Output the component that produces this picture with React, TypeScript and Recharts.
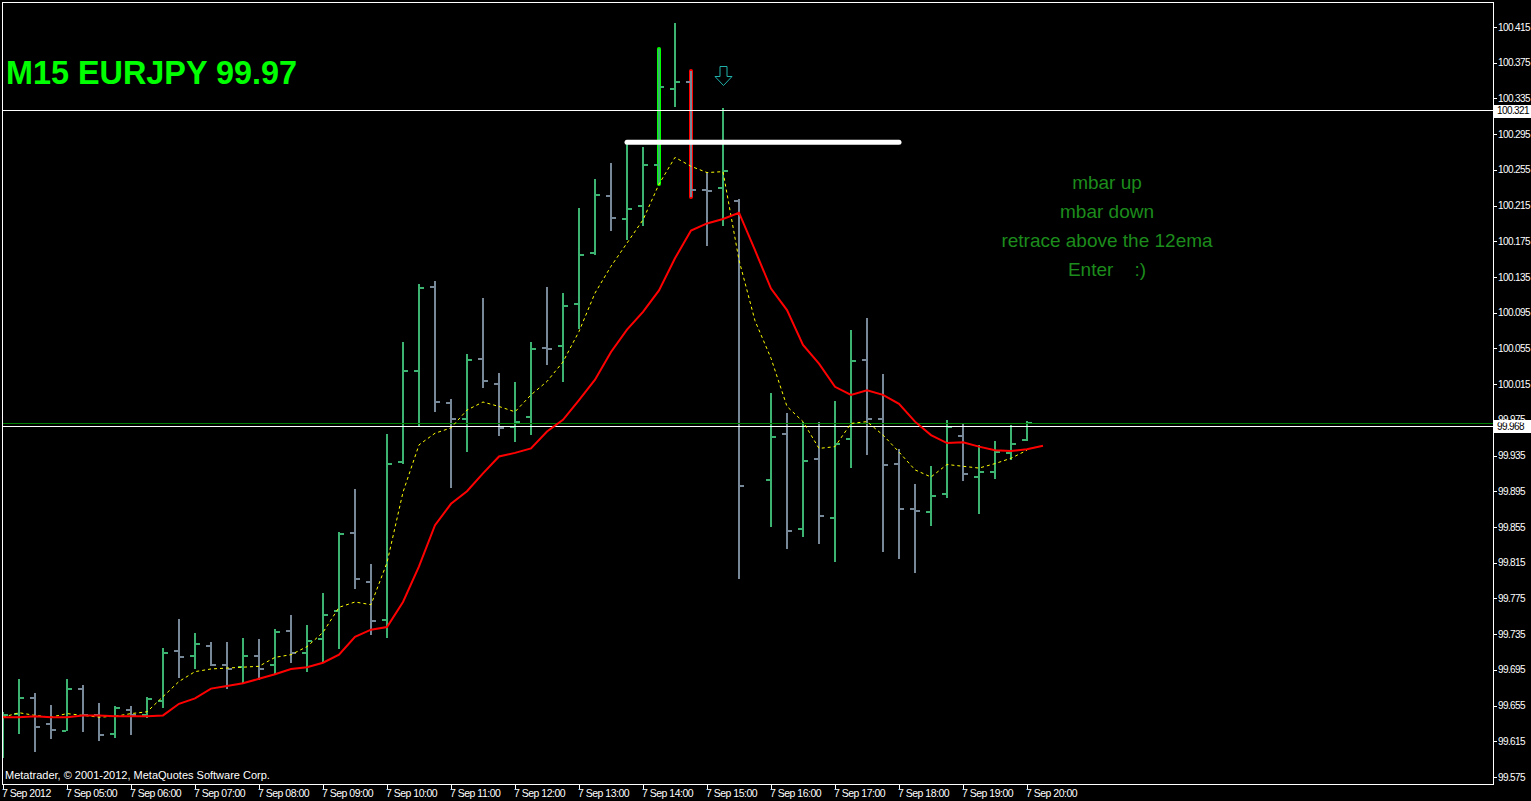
import React from 'react';
import { ComposedChart, Bar, Line, XAxis, YAxis, ReferenceLine, ReferenceDot } from 'recharts';

// ---- data (EURJPY M15, 7 Sep 2012, 04:00 .. 20:00) ----
const barIndex: number[] = Array.from({ length: 66 }, (_, i) => i);

const opens: (number | null)[] = [
  99.639, 99.646, 99.664, 99.634, 99.627, 99.674, 99.644, 99.623, 99.650, 99.644,
  99.660, 99.716, 99.711, 99.722, 99.701, 99.698, 99.710, 99.700, 99.739, 99.714,
  99.730, 99.761, 99.848, 99.793, 99.751, 99.928, 100.030, 100.124, 99.994, 99.976,
  100.043, 100.015, 99.967, 99.978, 100.055, 100.058, 100.105, 100.162, 100.226, 100.200,
  100.215, 100.260, 100.346, 100.353, 100.232, 100.235, 100.220, null, 99.908, 99.959,
  99.853, 99.931, 99.865, 99.953, 100.042, 99.976, 99.926, 99.875, 99.872, 99.892,
  99.957, 99.911, 99.917, 99.938, 99.952,
];
const highs: (number | null)[] = [
  99.648, 99.685, 99.669, 99.656, 99.685, 99.678, 99.658, 99.655, 99.655, 99.665,
  99.720, 99.752, 99.736, 99.726, 99.726, 99.731, 99.730, 99.741, 99.756, 99.745,
  99.781, 99.849, 99.898, 99.814, 99.959, 100.062, 100.127, 100.131, 99.998, 100.049,
  100.111, 100.027, 100.017, 100.062, 100.124, 100.117, 100.212, 100.245, 100.263, 100.286,
  100.281, 100.390, 100.419, 100.366, 100.253, 100.324, 100.222, null, 100.005, 99.983,
  99.973, 99.973, 99.996, 100.076, 100.089, 100.026, 99.942, 99.903, 99.923, 99.975,
  99.970, 99.947, 99.951, 99.969, 99.974,
];
const lows: (number | null)[] = [
  99.596, 99.623, 99.603, 99.618, 99.627, 99.625, 99.615, 99.619, 99.622, 99.641,
  99.652, 99.686, 99.696, 99.699, 99.674, 99.680, 99.684, 99.689, 99.703, 99.693,
  99.703, 99.718, 99.786, 99.734, 99.731, 99.926, 99.968, 99.984, 99.899, 99.939,
  100.011, 99.957, 99.950, 99.958, 100.036, 100.017, 100.077, 100.160, 100.186, 100.176,
  100.192, 100.239, 100.325, 100.225, 100.170, 100.192, 99.797, null, 99.855, 99.830,
  99.844, 99.836, 99.816, 99.921, 99.936, 99.827, 99.819, 99.803, 99.856, 99.888,
  99.906, 99.870, 99.909, 99.930, 99.951,
];
const closes: (number | null)[] = [
  99.644, 99.663, 99.631, 99.628, 99.673, 99.644, 99.622, 99.652, 99.644, 99.662,
  99.714, 99.709, 99.724, 99.700, 99.696, 99.711, 99.696, 99.737, 99.714, 99.727,
  99.756, 99.847, 99.797, 99.750, 99.926, 100.030, 100.123, 99.995, 99.976, 100.042,
  100.018, 99.966, 99.973, 100.054, 100.054, 100.103, 100.160, 100.227, 100.201, 100.211,
  100.260, 100.348, 100.353, 100.232, 100.231, 100.254, 99.901, null, 99.956, 99.850,
  99.929, 99.867, 99.948, 100.041, 99.976, 99.924, 99.875, 99.873, 99.890, 99.967,
  99.914, 99.917, 99.939, 99.948, 99.971,
];

// slow moving average (red, drawn one bar shifted)
const slowMA: number[] = [
  99.642, 99.642, 99.643, 99.642, 99.642, 99.644, 99.644, 99.643, 99.643, 99.643,
  99.644, 99.657, 99.663, 99.674, 99.677, 99.680, 99.685, 99.690, 99.696, 99.698,
  99.703, 99.712, 99.732, 99.740, 99.743, 99.771, 99.811, 99.857, 99.881, 99.895,
  99.915, 99.934, 99.938, 99.943, 99.962, 99.975, 99.997, 100.020, 100.051, 100.076,
  100.096, 100.120, 100.156, 100.187, 100.195, 100.200, 100.207, 100.165, 100.122, 100.098,
  100.059, 100.038, 100.012, 100.003, 100.008, 100.003, 99.993, 99.973, 99.958, 99.949,
  99.950, 99.945, 99.941, 99.940, 99.942, 99.946,
];
// fast moving average (yellow dotted)
const fastMA: number[] = [
  99.642, 99.647, 99.644, 99.642, 99.646, 99.644, 99.642, 99.643, 99.646, 99.648,
  99.665, 99.682, 99.693, 99.696, 99.697, 99.698, 99.699, 99.709, 99.712, 99.721,
  99.737, 99.765, 99.771, 99.768, 99.815, 99.894, 99.947, 99.960, 99.966, 99.986,
  99.995, 99.990, 99.984, 100.003, 100.018, 100.040, 100.074, 100.117, 100.147, 100.173,
  100.199, 100.239, 100.269, 100.259, 100.252, 100.253, 100.154, 100.086, 100.044, 99.990,
  99.973, 99.943, 99.945, 99.971, 99.973, 99.958, 99.939, 99.919, 99.911, 99.925,
  99.923, 99.921, 99.926, 99.932, 99.941,
];

const timeTicks: number[] = [0, 4, 8, 12, 16, 20, 24, 28, 32, 36, 40, 44, 48, 52, 56, 60, 64];
const timeLabels: string[] = [
  '7 Sep 2012', '7 Sep 05:00', '7 Sep 06:00', '7 Sep 07:00', '7 Sep 08:00', '7 Sep 09:00',
  '7 Sep 10:00', '7 Sep 11:00', '7 Sep 12:00', '7 Sep 13:00', '7 Sep 14:00', '7 Sep 15:00',
  '7 Sep 16:00', '7 Sep 17:00', '7 Sep 18:00', '7 Sep 19:00', '7 Sep 20:00',
];
const priceTicks: number[] = [
  100.415, 100.375, 100.335, 100.295, 100.255, 100.215, 100.175, 100.135, 100.095, 100.055,
  100.015, 99.975, 99.935, 99.895, 99.855, 99.815, 99.775, 99.735, 99.695, 99.655, 99.615, 99.575,
];

const resistanceLevel = 100.321;
const bidLevel = 99.971;
const closeLevel = 99.968;
const zoneLevel = 100.286;
const zoneFromBar = 39;
const zoneToBar = 56;
const arrowBar = 45;
const arrowPrice = 100.371;
const markedBars = [
  { bar: 41, color: '#00ff00' },
  { bar: 43, color: '#ff0000' },
];
const titleText = 'M15 EURJPY 99.97';
const noteLines: string[] = ['mbar up', 'mbar down', 'retrace above the 12ema', 'Enter    :)'];
const copyrightText = 'Metatrader, \u00a9 2001-2012, MetaQuotes Software Corp.';

// ---- layout ----
const W = 1531;
const H = 801;
const PLOT_LEFT = 2;
const PLOT_TOP = 2;
const PLOT_RIGHT = 1493;
const PLOT_BOTTOM = 785;
const X_DOMAIN: [number, number] = [-0.0625, 93.125];
const Y_DOMAIN: [number, number] = [99.56604, 100.443];
const UP = '#3cb371';
const DOWN = '#778899';
const FONT = '"Liberation Sans", Arial, sans-serif';

const data = barIndex.map((i) => ({
  i,
  open: opens[i] ?? null,
  high: highs[i] ?? null,
  low: lows[i] ?? null,
  close: closes[i] ?? null,
  slow: slowMA[i] ?? null,
  fast: fastMA[i] ?? null,
}));

const OhlcShape = (props: any) => {
  const { x, y, width, height, payload } = props;
  if (!payload || payload.high == null || !Number.isFinite(y) || !Number.isFinite(height)) return null;
  const cx = Math.round(x + width / 2 + 0.5);
  const range = payload.high - payload.low;
  const yOf = (v: number) => (range > 0 ? y + ((payload.high - v) / range) * height : y);
  const up = payload.close > payload.open;
  const color = up ? UP : DOWN;
  const mark = markedBars.find((m) => m.bar === payload.i);
  const top = Math.round(y);
  const bottom = Math.round(y + height);
  return (
    <g>
      {mark && (
        <line x1={cx} x2={cx} y1={top} y2={bottom} stroke={mark.color} strokeWidth={4} strokeLinecap="round" />
      )}
      <rect x={cx - 1} y={top} width={2} height={Math.max(bottom - top, 1)} fill={color} />
      <rect x={cx - 5} y={Math.round(yOf(payload.open)) - 1} width={4} height={2} fill={color} />
      <rect x={cx + 1} y={Math.round(yOf(payload.close)) - 1} width={4} height={2} fill={color} />
    </g>
  );
};

const TimeTick = (props: any) => {
  const { x, payload } = props;
  const idx = timeTicks.indexOf(payload.value);
  const label = idx >= 0 ? timeLabels[idx] : '';
  const px = Math.round(x) + 0.5;
  return (
    <g>
      <line x1={px} x2={px} y1={PLOT_BOTTOM} y2={PLOT_BOTTOM + 4} stroke="#fff" />
      <text x={Math.round(x) - 1} y={PLOT_BOTTOM + 11.5} fill="#fff" fontSize={10.5} letterSpacing={-0.5} fontFamily={FONT} textAnchor="start">
        {label}
      </text>
    </g>
  );
};

const PriceTick = (props: any) => {
  const { y, payload } = props;
  const py = Math.round(y) + 0.5;
  return (
    <g>
      <line x1={PLOT_RIGHT} x2={PLOT_RIGHT + 4} y1={py} y2={py} stroke="#fff" />
      <text x={PLOT_RIGHT + 5} y={y + 3.5} fill="#fff" fontSize={10} letterSpacing={-0.6} fontFamily={FONT}>
        {Number(payload.value).toFixed(3)}
      </text>
    </g>
  );
};

const PriceTag = (props: any) => {
  const { viewBox, value, bg, fg } = props;
  if (!viewBox) return null;
  const x = viewBox.x + viewBox.width + 1;
  const y = viewBox.y;
  return (
    <g>
      <rect x={x} y={Math.round(y) - 6} width={37} height={13} fill={bg} />
      <text x={x + 3} y={y + 3.5} fill={fg} fontSize={10} letterSpacing={-0.6} fontFamily={FONT}>
        {Number(value).toFixed(3)}
      </text>
    </g>
  );
};

const ArrowShape = (props: any) => {
  const { cx, cy } = props;
  if (!Number.isFinite(cx) || !Number.isFinite(cy)) return null;
  const c = Math.round(cx) + 0.5;
  const t = Math.round(cy) + 0.5;
  const d = `M${c - 3.5},${t} L${c + 3.5},${t} L${c + 3.5},${t + 10} L${c + 8.5},${t + 10} L${c},${t + 19} L${c - 8.5},${t + 10} L${c - 3.5},${t + 10} Z`;
  return <path d={d} fill="none" stroke="#20b2aa" strokeWidth={1} />;
};

export default function App() {
  return (
    <div style={{ position: 'absolute', left: 0, top: 0, width: W, height: H, background: '#000', overflow: 'hidden' }}>
      <ComposedChart
        width={W}
        height={H}
        data={data}
        margin={{ top: PLOT_TOP, right: 0, bottom: 0, left: PLOT_LEFT }}
        style={{ background: '#000' }}
      >
        <XAxis
          dataKey="i"
          type="number"
          domain={X_DOMAIN}
          allowDataOverflow
          ticks={timeTicks}
          interval={0}
          height={H - PLOT_BOTTOM}
          axisLine={false}
          tickLine={false}
          tick={<TimeTick />}
        />
        <YAxis
          type="number"
          orientation="right"
          domain={Y_DOMAIN}
          allowDataOverflow
          ticks={priceTicks}
          interval={0}
          width={W - PLOT_RIGHT}
          axisLine={false}
          tickLine={false}
          tick={<PriceTick />}
        />
        <ReferenceLine y={resistanceLevel} stroke="#ffffff" strokeWidth={1} shapeRendering="crispEdges"
          label={<PriceTag value={resistanceLevel} bg="#ffffff" fg="#000000" />} />
        <ReferenceLine y={bidLevel} stroke="#008000" strokeWidth={1} shapeRendering="crispEdges" />
        <ReferenceLine y={closeLevel} stroke="#ffffff" strokeWidth={1} shapeRendering="crispEdges"
          label={<PriceTag value={closeLevel} bg="#ffffff" fg="#000000" />} />
        <Bar
          dataKey={(d: any) => (d.high == null ? null : [d.low, d.high])}
          barSize={5}
          shape={<OhlcShape />}
          isAnimationActive={false}
        />
        <Line type="linear" dataKey="fast" stroke="#ffff00" strokeWidth={1} strokeDasharray="3 3" dot={false} activeDot={false} isAnimationActive={false} />
        <Line type="linear" dataKey="slow" stroke="#ff0000" strokeWidth={2} dot={false} activeDot={false} isAnimationActive={false} />
        <ReferenceLine
          segment={[{ x: zoneFromBar, y: zoneLevel }, { x: zoneToBar, y: zoneLevel }]}
          stroke="#ffffff"
          strokeWidth={5}
          strokeLinecap="round"
        />
        <ReferenceDot x={arrowBar} y={arrowPrice} r={0} shape={<ArrowShape />} />
      </ComposedChart>
      <svg width={W} height={H} style={{ position: 'absolute', left: 0, top: 0, pointerEvents: 'none' }}>
        <rect x={PLOT_LEFT + 0.5} y={PLOT_TOP + 0.5} width={PLOT_RIGHT - PLOT_LEFT} height={PLOT_BOTTOM - PLOT_TOP - 1} fill="none" stroke="#ffffff" strokeWidth={1} />
        <text x={6} y={84} fill="#00ff00" fontSize={34} fontWeight="bold" fontFamily={FONT} textLength={291} lengthAdjust="spacingAndGlyphs">
          {titleText}
        </text>
        {noteLines.map((t, k) => (
          <text key={k} x={1107} y={189 + k * 29} fill="#1c8c1c" fontSize={19} fontFamily={FONT} textAnchor="middle" style={{ whiteSpace: 'pre' }} xmlSpace="preserve">
            {t}
          </text>
        ))}
        <text x={5} y={779} fill="#ffffff" fontSize={11} fontFamily={FONT}>
          {copyrightText}
        </text>
      </svg>
    </div>
  );
}
